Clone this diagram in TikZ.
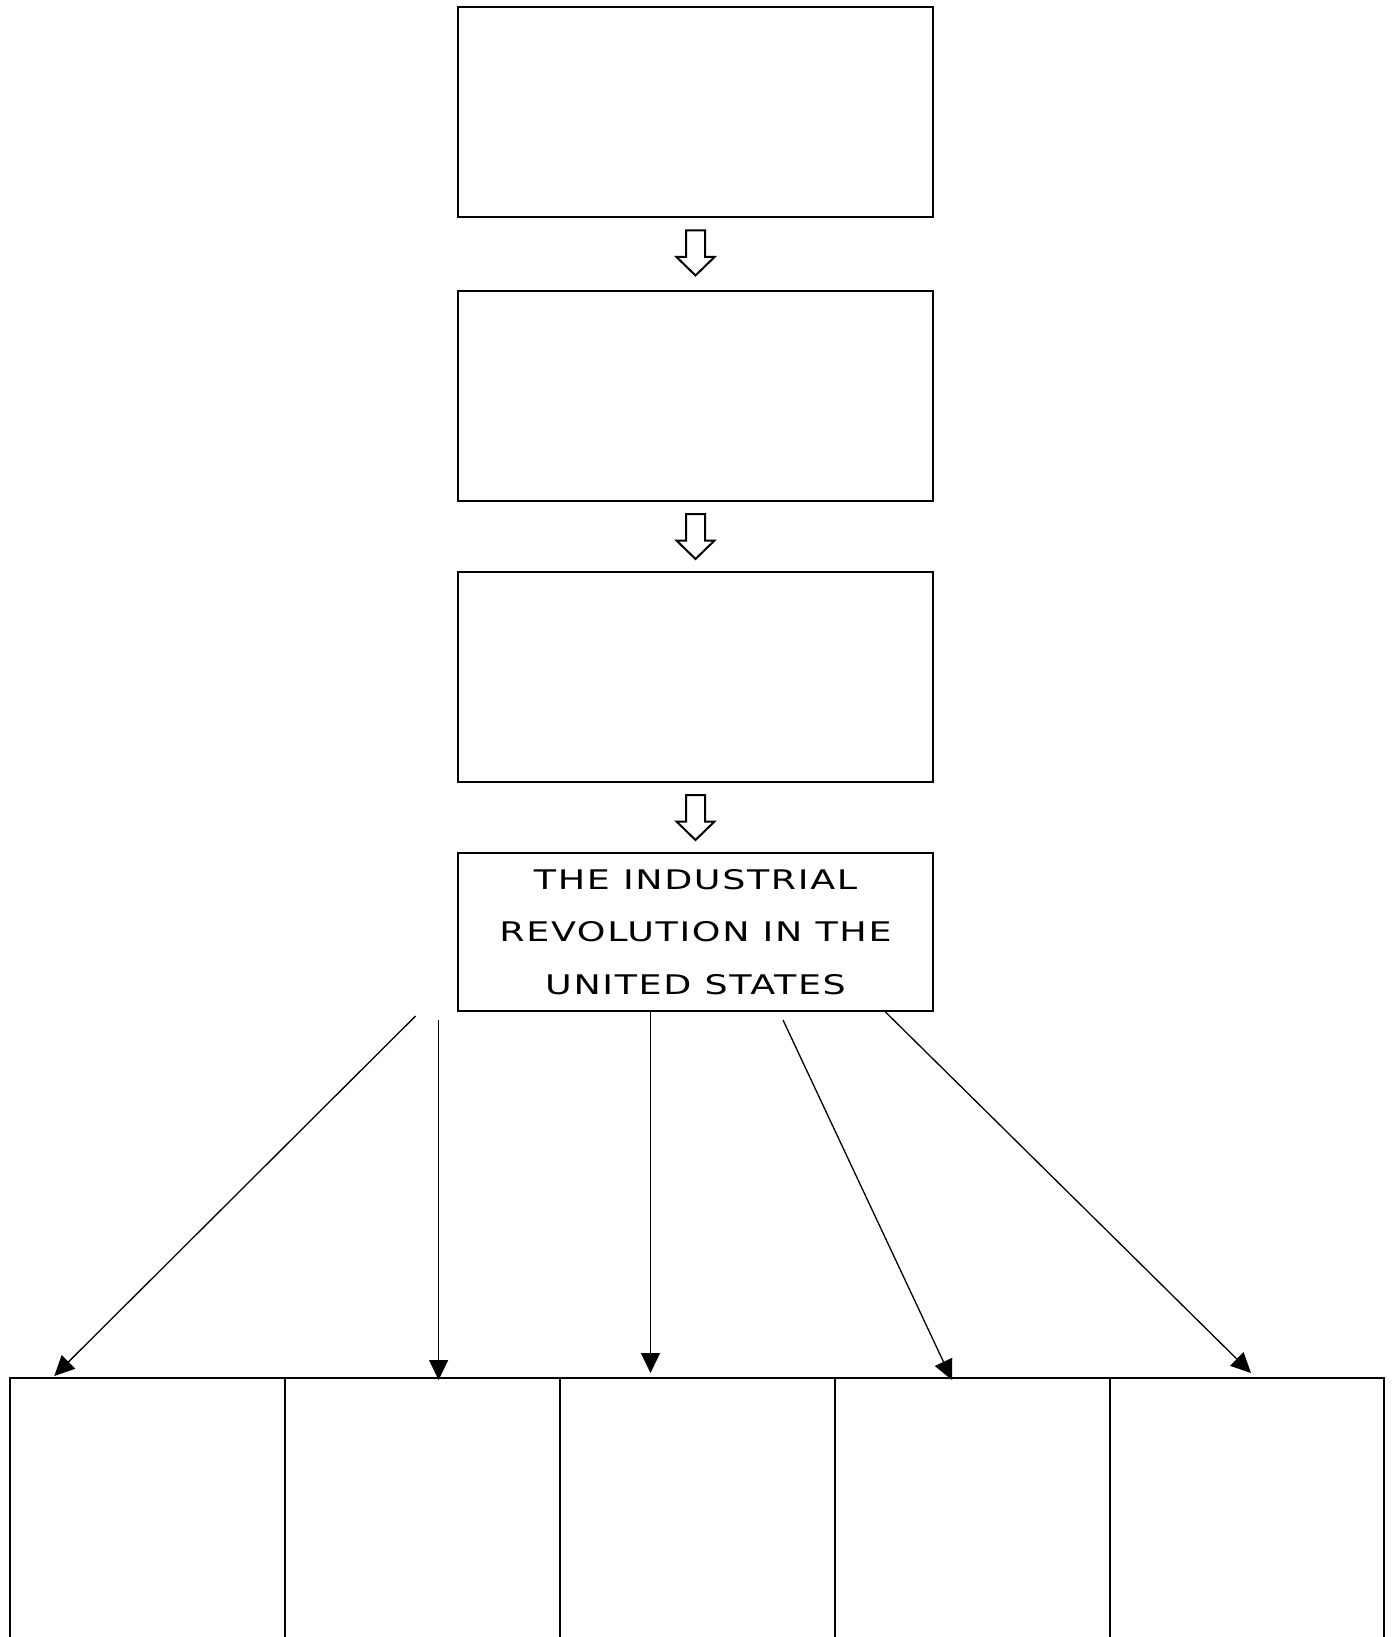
\documentclass[tikz,border=0pt]{standalone}
\usepackage{fontspec}
\newfontfamily\titlefont[FakeStretch=1.35,LetterSpace=6]{DejaVu Sans}
\usepackage{tikz}
\usetikzlibrary{positioning,arrows.meta}

\begin{document}
\begin{tikzpicture}[x=1pt,y=-1pt,
        box/.style={draw,line width=2pt,minimum width=475pt,minimum height=210pt,inner sep=0pt},
        column/.style={draw,line width=2pt,minimum width=274.8pt,minimum height=400pt,inner sep=0pt,anchor=north west},
        hollow/.style={draw,line width=2pt,line join=miter,fill=white},
        fan/.style={-{Triangle[length=20pt,width=19pt]},line width=1.3pt}]
      \path[use as bounding box,clip] (0,0) rectangle (1394,1637);
      \node[box] (box1) at (695.5,112.5) {};
      \node[box,below=71.5pt of box1] (box2) {};
      \node[box,below=69pt of box2] (box3) {};
      \node[box,below=69pt of box3,minimum height=158pt,align=center,
            font=\titlefont\fontsize{27}{52.7}\selectfont] (box4)
            {THE INDUSTRIAL\\REVOLUTION IN THE\\UNITED STATES};
      \foreach \a/\b in {box1/box2,box2/box3,box3/box4}
        \draw[hollow] ([shift={(-9.5,12)}]\a.south) -- ++(0,26.5) -- ++(-9.5,0)
              -- ++(19,18.5) -- ++(19,-18.5) -- ++(-9.5,0) -- ++(0,-26.5) -- cycle;
      \foreach \i in {1,...,5}
        \node[column] (col\i) at ({9.4+274.8*(\i-1)},1377) {};
      \coordinate (s1) at (415.6,1016);
      \coordinate (s2) at (438.6,1020);
      \coordinate (s4) at (783,1020);
      \coordinate (e1) at (54.3,1376);
      \coordinate (e2) at (438.6,1380);
      \coordinate (e3) at (650.5,1373);
      \coordinate (e4) at (952,1380);
      \coordinate (e5) at (1251,1373);
      \draw[fan] (s1) -- (e1);
      \draw[fan] (s2) -- (e2);
      \draw[fan] (box4.south -| e3) -- (e3);
      \draw[fan] (s4) -- (e4);
      \draw[fan] (box4.south -| 885.5,0) -- (e5);
\end{tikzpicture}
\end{document}
